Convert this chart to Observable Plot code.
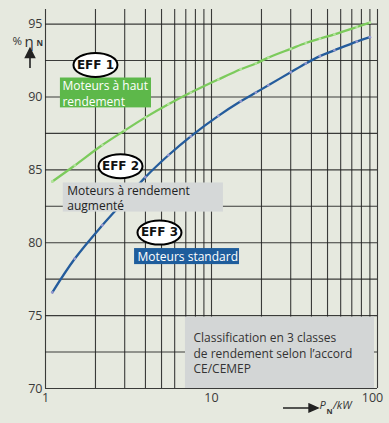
<!DOCTYPE html>
<html>
<head>
<meta charset="utf-8">
<script src="https://cdn.jsdelivr.net/npm/d3@7"></script>
<script src="https://cdn.jsdelivr.net/npm/@observablehq/plot@0.6"></script>
<style>
  html, body { margin: 0; padding: 0; background: #e6e9df; }
  svg { display: block; }
</style>
</head>
<body>
<div id="chart"></div>
<script>
// Rated power of the motors, kW
const powerKW = [1.1, 1.5, 2.2, 3, 4, 5.5, 7.5, 11, 15, 18.5, 22, 30, 37, 45, 55, 75, 90];
// Efficiency limit of class EFF 1 (high efficiency), %
const effEFF1 = [84.2, 85.3, 86.7, 87.7, 88.6, 89.5, 90.3, 91.2, 91.9, 92.3, 92.7, 93.3, 93.7, 94.0, 94.3, 94.8, 95.1];
// Efficiency limit of class EFF 2 (improved efficiency), %
const effEFF2 = [76.6, 78.9, 81.2, 82.9, 84.5, 86.0, 87.3, 88.7, 89.7, 90.3, 90.8, 91.7, 92.3, 92.8, 93.2, 93.8, 94.1];

const yTickLabels = [70, 75, 80, 85, 90, 95];
const yGridValues = [70, 72.5, 75, 77.5, 80, 82.5, 85, 87.5, 90, 92.5, 95];
const xTickLabels = [1, 10, 100];
const xGridValues = [1, 2, 3, 4, 5, 6, 7, 8, 9, 10, 20, 30, 40, 50, 60, 70, 80, 90, 100];

const classNames = ["EFF 1", "EFF 2", "EFF 3"];
const classTexts = ["Moteurs à haut\nrendement", "Moteurs à rendement\naugmenté", "Moteurs standard"];
const noteText = "Classification en 3 classes\nde rendement selon l’accord\nCE/CEMEP";

// Placement of the class badges and caption boxes, in data units (kW, %)
const badgeAt = [[2.0, 92.2], [2.83, 85.25], [4.86, 80.7]];
const boxAt = [
  {x1: 1.23, x2: 4.35, y1: 89.25, y2: 91.3, fill: "#5db84a", color: "#ffffff", dx: 2, lh: 1.3},
  {x1: 1.28, x2: 11.8, y1: 82.1, y2: 84.1, fill: "#d5d8d8", color: "#222", dx: 4, lh: 1.3},
  {x1: 3.44, x2: 14.75, y1: 78.5, y2: 79.6, fill: "#1e5d9c", color: "#ffffff", dx: 3, lh: 1.2}
];
const noteBox = {x1: 6.97, x2: 95.9, y1: 70, y2: 74.9};

const rows = powerKW.map((p, i) => ({p, e1: effEFF1[i], e2: effEFF2[i]}));
const boxes = boxAt.map((b, i) => ({...b, text: classTexts[i]}));
const badges = badgeAt.map(([p, e], i) => ({p, e, name: classNames[i]}));

// Ellipse outline used for the class badges
const ellipse = {
  draw(ctx) {
    const rx = 22, ry = 12, k = 0.5523, kx = rx * k, ky = ry * k;
    ctx.moveTo(-rx, 0);
    ctx.bezierCurveTo(-rx, -ky, -kx, -ry, 0, -ry);
    ctx.bezierCurveTo(kx, -ry, rx, -ky, rx, 0);
    ctx.bezierCurveTo(rx, ky, kx, ry, 0, ry);
    ctx.bezierCurveTo(-kx, ry, -rx, ky, -rx, 0);
    ctx.closePath();
  }
};

const gridStyle = {stroke: "#222", strokeOpacity: 0.88, strokeWidth: 1.1};
const axisStyle = {tickSize: 0, fontSize: 12.5, label: null, fill: "#3a3a3a"};

const chart = Plot.plot({
  width: 389,
  height: 423,
  marginLeft: 45,
  marginRight: 12,
  marginTop: 9,
  marginBottom: 35,
  style: {background: "#e6e9df", fontFamily: "'Open Sans', sans-serif", fontSize: "12px", color: "#3a3a3a"},
  x: {type: "log", domain: [1, 100]},
  y: {domain: [70, 96]},
  marks: [
    Plot.gridX(xGridValues, gridStyle),
    Plot.gridY(yGridValues, gridStyle),
    Plot.axisY(yTickLabels, {...axisStyle, tickPadding: 3}),
    Plot.axisX(xTickLabels.slice(0, 2), {...axisStyle, tickPadding: 5, tickFormat: d => String(d)}),
    Plot.axisX(xTickLabels.slice(2), {...axisStyle, tickPadding: 5, dx: -5, tickFormat: d => String(d)}),
    Plot.line(rows, {x: "p", y: "e1", stroke: "#7ccb5c", strokeWidth: 2.3, curve: "catmull-rom"}),
    Plot.line(rows, {x: "p", y: "e2", stroke: "#245c9c", strokeWidth: 2.3, curve: "catmull-rom"}),
    Plot.dot(rows, {x: "p", y: "e1", r: 1.4, fill: "#b3e39c"}),
    Plot.dot(rows, {x: "p", y: "e2", r: 1.4, fill: "#9597cf"}),
    // caption boxes
    Plot.rect(boxes, {x1: "x1", x2: "x2", y1: "y1", y2: "y2", fill: "fill"}),
    Plot.rect([noteBox], {x1: "x1", x2: "x2", y1: "y1", y2: "y2", fill: "#d3d6d6"}),
    ...boxes.map(b => Plot.text([b], {
      x: "x1", y: d => (d.y1 + d.y2) / 2, text: "text", dx: b.dx,
      textAnchor: "start", lineAnchor: "middle", lineHeight: b.lh,
      fill: b.color, fontSize: 12
    })),
    Plot.text([noteText], {
      x: noteBox.x1, y: 72.45, dx: 8, textAnchor: "start", lineAnchor: "middle",
      lineHeight: 1.3, fill: "#333", fontSize: 12
    }),
    // class badges
    Plot.dot(badges, {x: "p", y: "e", symbol: ellipse, fill: "white", stroke: "#000", strokeWidth: 2}),
    Plot.text(badges, {x: "p", y: "e", text: "name", fontFamily: "'DejaVu Sans', sans-serif", fontWeight: "bold", fontSize: 12, fill: "#111"}),
    // axis titles
    Plot.text(["%"], {frameAnchor: "top-left", dx: -33, dy: 27, textAnchor: "start", fontSize: 11.5, fill: "#333"}),
    Plot.text(["η"], {frameAnchor: "top-left", dx: -21, dy: 27, textAnchor: "start", fontSize: 15, fill: "#333"}),
    Plot.text(["N"], {frameAnchor: "top-left", dx: -9, dy: 31, textAnchor: "start", fontSize: 8, fontWeight: "bold", fill: "#333"}),
    Plot.text(["P"], {frameAnchor: "bottom-left", dx: 274, dy: 20, textAnchor: "start", fontSize: 11, fontStyle: "italic", fill: "#333"}),
    Plot.text(["N"], {frameAnchor: "bottom-left", dx: 281, dy: 25, textAnchor: "start", fontSize: 7.5, fontWeight: "bold", fill: "#333"}),
    Plot.text(["/kW"], {frameAnchor: "bottom-left", dx: 287.5, dy: 20, textAnchor: "start", fontSize: 11, fontStyle: "italic", fill: "#333"})
  ]
});

// Direction arrows next to the axis titles
const svg = d3.select(chart);
svg.append("path")
  .attr("d", "M30,68V56 M25.5,57.5L30,48.5L34.5,57.5Z")
  .attr("stroke", "#222").attr("stroke-width", 1.6).attr("fill", "#222");
svg.append("path")
  .attr("d", "M283,408H310 M309,404L318,408L309,412Z")
  .attr("stroke", "#222").attr("stroke-width", 1.4).attr("fill", "#222");

document.getElementById("chart").appendChild(chart);
</script>
</body>
</html>
